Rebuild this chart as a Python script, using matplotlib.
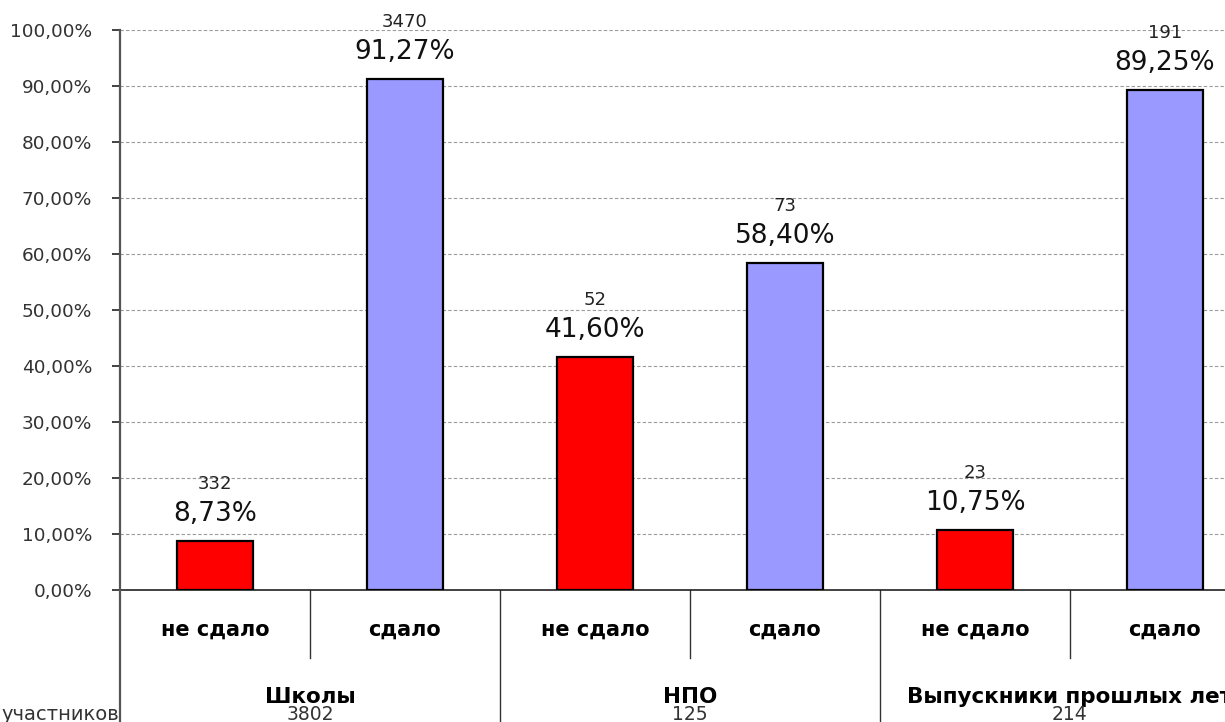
import matplotlib
matplotlib.use("Agg")
import matplotlib.pyplot as plt
from matplotlib.ticker import MultipleLocator, FuncFormatter

plt.rcParams['font.family'] = ['DejaVu Sans']

# Data
groups = ["Школы", "НПО", "Выпускники прошлых лет"]
group_totals = [3802, 125, 214]
statuses = ["не сдало", "сдало"]
percents = [8.73, 91.27, 41.60, 58.40, 10.75, 89.25]
counts = [332, 3470, 52, 73, 23, 191]
colors = ["#FF0000", "#9999FF"]

W, H = 1225, 722
fig = plt.figure(figsize=(W / 100, H / 100), dpi=100)
ax_left, ax_right = 120, 1260
ax_top, ax_bottom = 30, 590
ax = fig.add_axes([ax_left / W, 1 - ax_bottom / H,
                   (ax_right - ax_left) / W, (ax_bottom - ax_top) / H])

xs = list(range(len(percents)))
bar_colors = [colors[i % 2] for i in xs]
ax.bar(xs, percents, width=0.4, color=bar_colors, edgecolor="black",
       linewidth=1.6, zorder=3)

ax.set_xlim(-0.5, len(percents) - 0.5)
ax.set_ylim(0, 100)
ax.yaxis.set_major_locator(MultipleLocator(10))
ax.yaxis.set_major_formatter(FuncFormatter(lambda v, p: f"{v:.2f}%".replace(".", ",")))
ax.tick_params(axis="y", direction="out", length=6, width=1.2, color="#222222",
               labelsize=13.3, labelcolor="#333333", pad=14)
ax.set_xticks([])
ax.grid(axis="y", color="#9a9a9a", linestyle=(0, (3, 2)), linewidth=0.8, zorder=0)

for side in ("top", "right"):
    ax.spines[side].set_visible(False)
ax.spines["left"].set_visible(False)
ax.spines["bottom"].set_color("#222222")
ax.spines["bottom"].set_linewidth(1.2)

# Value labels: percentage and count above every bar
for x, p, c in zip(xs, percents, counts):
    ax.annotate(f"{p:.2f}%".replace(".", ","), (x, p), xytext=(0, 19.5),
                textcoords="offset points", ha="center", va="center",
                fontsize=19, color="#111111", zorder=4)
    ax.annotate(str(c), (x, p), xytext=(0, 41), textcoords="offset points",
                ha="center", va="center", fontsize=13, color="#222222",
                zorder=4)

# Multi-level category axis
tr = ax.get_xaxis_transform()
px = 1.0 / (ax_bottom - ax_top)
y_status = -(630 - ax_bottom) * px
y_group = -(697 - ax_bottom) * px
y_total = -(714 - ax_bottom) * px
y_inner = -(658 - ax_bottom) * px
y_outer = -(H - ax_bottom) * px

# vertical axis line continuing through the category area
ax.plot([-0.5, -0.5], [1, y_outer], transform=tr, color="#555555", lw=1.6,
        clip_on=False, zorder=5)

for i, x in enumerate(xs):
    ax.text(x, y_status, statuses[i % 2], transform=tr, ha="center", va="center",
            fontsize=15, fontweight="bold", color="black")

for g, (name, total) in enumerate(zip(groups, group_totals)):
    xc = 2 * g + 0.5
    ax.text(xc, y_group, name, transform=tr, ha="center", va="center",
            fontsize=15.5, fontweight="bold", color="black")
    ax.text(xc, y_total, str(total), transform=tr, ha="center", va="center",
            fontsize=13.5, color="#333333")
    ax.plot([2 * g + 0.5] * 2, [0, y_inner], transform=tr, color="#333333",
            lw=1.0, clip_on=False)
    if g > 0:
        ax.plot([2 * g - 0.5] * 2, [0, y_outer], transform=tr, color="#333333",
                lw=1.0, clip_on=False)

fig.text(119 / W, 1 - 714 / H, "участников", ha="right", va="center",
         fontsize=14, color="#333333")

fig.savefig("out.png", dpi=100)
